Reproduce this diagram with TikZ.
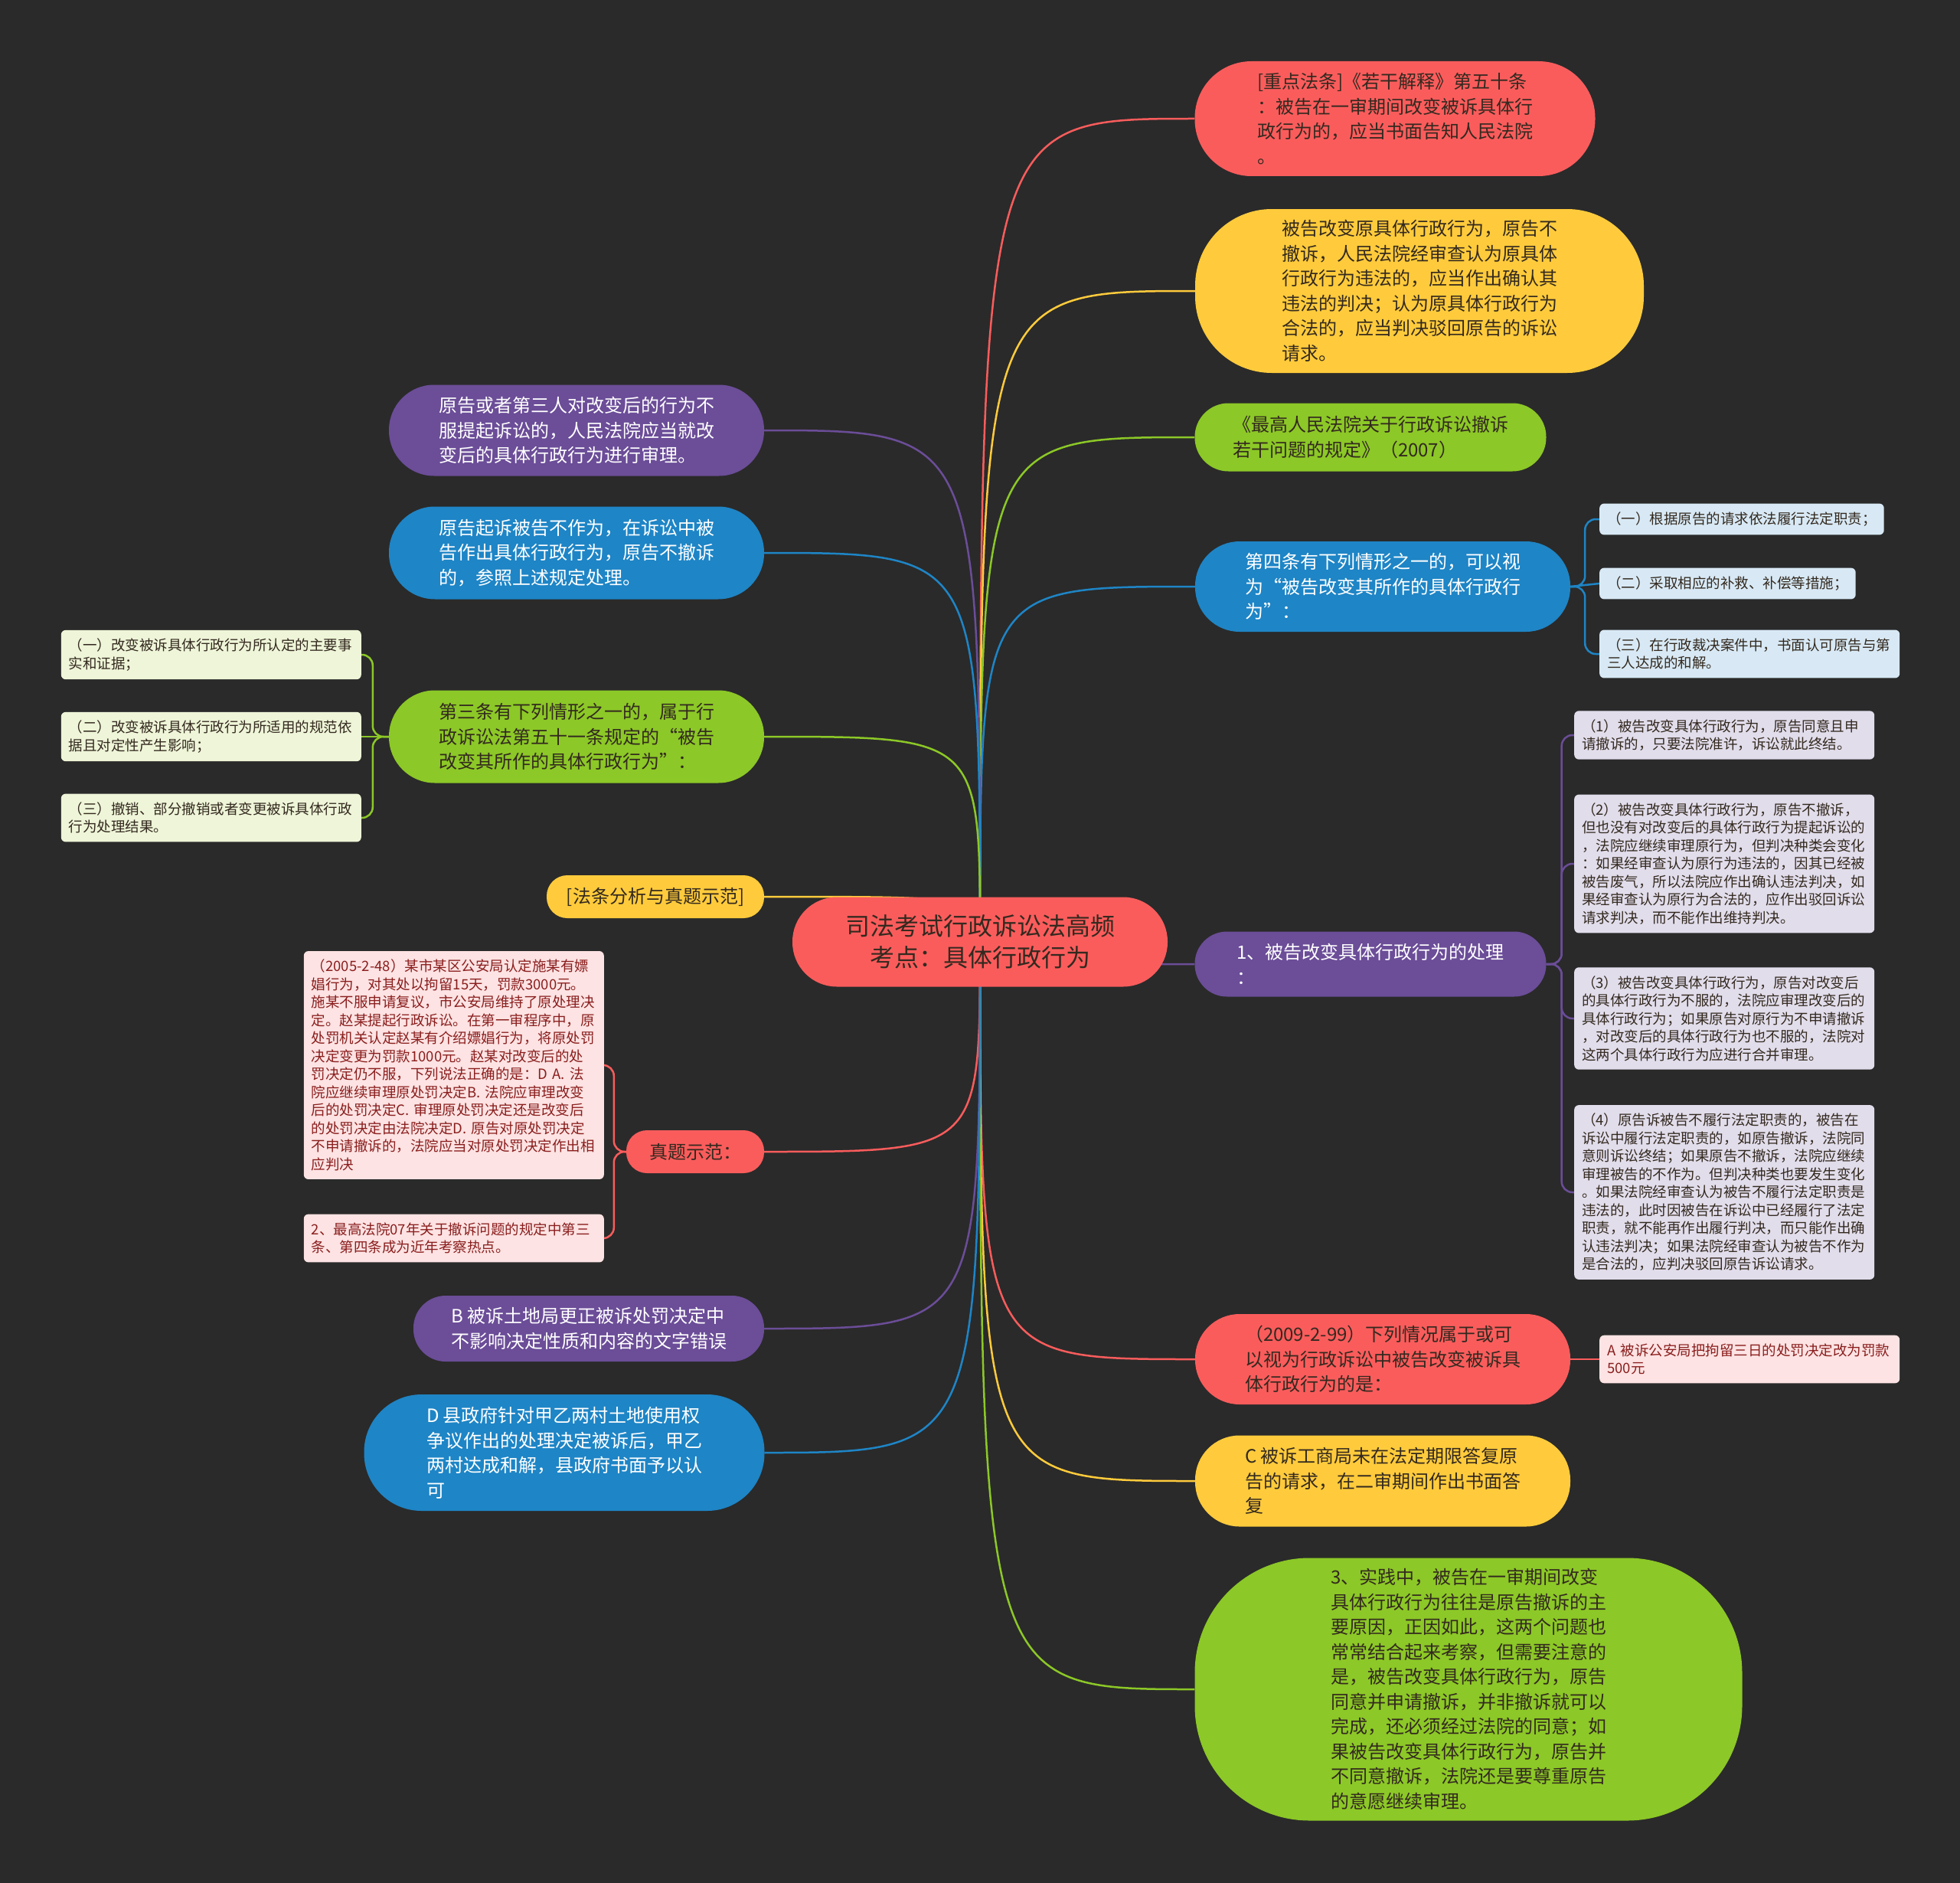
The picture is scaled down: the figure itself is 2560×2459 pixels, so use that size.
\documentclass[tikz,border=0pt]{standalone}
\usepackage{fontspec}
\setmainfont{Noto Sans CJK SC}
\usepackage{tikz}

\pgfdeclarelayer{bg}
\pgfdeclarelayer{edges}
\pgfsetlayers{bg,edges,main}

\definecolor{paper}{HTML}{2A2A2A}
\definecolor{cred}{HTML}{FA5C5C}
\definecolor{cyellow}{HTML}{FFCB3C}
\definecolor{cgreen}{HTML}{8CC827}
\definecolor{cblue}{HTML}{1E85C6}
\definecolor{cpurple}{HTML}{6B4D98}
\definecolor{cdark}{HTML}{33291F}
\definecolor{lblue}{HTML}{D8E9F5}
\definecolor{lpurple}{HTML}{E1DDEB}
\definecolor{lgreen}{HTML}{EEF5D8}
\definecolor{lpink}{HTML}{FDE3E3}
\definecolor{tpink}{HTML}{8A1E1E}

\begin{document}
\begin{tikzpicture}[x=1pt,y=-1pt,
    topic/.style={align=left,inner sep=0pt,font=\fontsize{24}{32.5}\selectfont},
    leaf/.style={align=left,inner xsep=10pt,inner ysep=11pt,rounded corners=6pt,
        font=\fontsize{18.5}{23.5}\selectfont},
    leafwide/.style={leaf,text width=372pt},
    link/.style={line width=2.5pt},
    brace/.style={line width=2.5pt,rounded corners=14pt}]
    \useasboundingbox (0,0) rectangle (2560,2459);
    \begin{pgfonlayer}{bg}
        \fill[paper] (0,0) rectangle (2560,2459);
    \end{pgfonlayer}

    % centre
    \node[align=center,inner sep=0pt,font=\fontsize{32}{41}\selectfont,fill=cred,text=cdark,
        minimum width=490pt,minimum height=117pt,rounded corners=58pt] (root) at (1280,1230)
        {司法考试行政诉讼法高频\\考点：具体行政行为};

    % right side
    \node[topic,fill=cred,text=cdark,minimum width=523pt,minimum height=150pt,
        rounded corners=74pt] (law) at (1822,155)
        {[重点法条]《若干解释》第五十条\\：被告在一审期间改变被诉具体行\\政行为的，应当书面告知人民法院\\。};
    \node[topic,fill=cyellow,text=cdark,minimum width=586pt,minimum height=214pt,
        rounded corners=100pt] (judge) at (1854,380)
        {被告改变原具体行政行为，原告不\\撤诉，人民法院经审查认为原具体\\行政行为违法的，应当作出确认其\\违法的判决；认为原具体行政行为\\合法的，应当判决驳回原告的诉讼\\请求。};
    \node[topic,fill=cgreen,text=cdark,minimum width=459pt,minimum height=89pt,
        rounded corners=44pt] (rules) at (1790,571)
        {《最高人民法院关于行政诉讼撤诉\\若干问题的规定》（2007）};
    \node[topic,fill=cblue,text=white,minimum width=490pt,minimum height=118pt,
        rounded corners=58pt] (art4) at (1806,766)
        {第四条有下列情形之一的，可以视\\为“被告改变其所作的具体行政行\\为”：};
    \node[topic,fill=cpurple,text=white,minimum width=459pt,minimum height=85pt,
        rounded corners=42pt] (handle) at (1790,1259)
        {1、被告改变具体行政行为的处理\\：};
    \node[topic,fill=cred,text=cdark,minimum width=490pt,minimum height=118pt,
        rounded corners=58pt] (ex09) at (1806,1775)
        {（2009-2-99）下列情况属于或可\\以视为行政诉讼中被告改变被诉具\\体行政行为的是：};
    \node[topic,fill=cyellow,text=cdark,minimum width=490pt,minimum height=119pt,
        rounded corners=58pt] (optc) at (1806,1934)
        {C 被诉工商局未在法定期限答复原\\告的请求，在二审期间作出书面答\\复};
    \node[topic,fill=cgreen,text=cdark,minimum width=715pt,minimum height=343pt,
        rounded corners=150pt] (practice) at (1918,2206)
        {3、实践中，被告在一审期间改变\\具体行政行为往往是原告撤诉的主\\要原因，正因如此，这两个问题也\\常常结合起来考察，但需要注意的\\是，被告改变具体行政行为，原告\\同意并申请撤诉，并非撤诉就可以\\完成，还必须经过法院的同意；如\\果被告改变具体行政行为，原告并\\不同意撤诉，法院还是要尊重原告\\的意愿继续审理。};

    % left side
    \node[topic,fill=cpurple,text=white,minimum width=490pt,minimum height=119pt,
        rounded corners=59pt] (third) at (753,562)
        {原告或者第三人对改变后的行为不\\服提起诉讼的，人民法院应当就改\\变后的具体行政行为进行审理。};
    \node[topic,fill=cblue,text=white,minimum width=490pt,minimum height=121pt,
        rounded corners=60pt] (omit) at (753,722)
        {原告起诉被告不作为，在诉讼中被\\告作出具体行政行为，原告不撤诉\\的，参照上述规定处理。};
    \node[topic,fill=cgreen,text=cdark,minimum width=490pt,minimum height=121pt,
        rounded corners=60pt] (art3) at (753,962)
        {第三条有下列情形之一的，属于行\\政诉讼法第五十一条规定的“被告\\改变其所作的具体行政行为”：};
    \node[topic,fill=cyellow,text=cdark,minimum width=284pt,minimum height=56pt,
        rounded corners=27pt] (guide) at (856,1171) {[法条分析与真题示范]};
    \node[topic,fill=cred,text=cdark,minimum width=180pt,minimum height=56pt,
        rounded corners=27pt] (demo) at (908,1504) {真题示范：};
    \node[topic,fill=cpurple,text=white,minimum width=458pt,minimum height=86pt,
        rounded corners=42pt] (optb) at (769,1735)
        {B 被诉土地局更正被诉处罚决定中\\不影响决定性质和内容的文字错误};
    \node[topic,fill=cblue,text=white,minimum width=523pt,minimum height=152pt,
        rounded corners=75pt] (optd) at (737,1897)
        {D 县政府针对甲乙两村土地使用权\\争议作出的处理决定被诉后，甲乙\\两村达成和解，县政府书面予以认\\可};

    % leaves
    \node[leaf,fill=lblue,text=cdark,anchor=west] (art4a) at (2089,678)
        {（一）根据原告的请求依法履行法定职责；};
    \node[leaf,fill=lblue,text=cdark,anchor=west] (art4b) at (2089,762)
        {（二）采取相应的补救、补偿等措施；};
    \node[leafwide,fill=lblue,text=cdark,anchor=west] (art4c) at (2089,854)
        {（三）在行政裁决案件中，书面认可原告与第\\三人达成的和解。};

    \node[leafwide,fill=lpurple,text=cdark,anchor=west] (handle1) at (2056,960)
        {（1）被告改变具体行政行为，原告同意且申\\请撤诉的，只要法院准许，诉讼就此终结。};
    \node[leafwide,fill=lpurple,text=cdark,anchor=west] (handle2) at (2056,1128)
        {（2）被告改变具体行政行为，原告不撤诉，\\但也没有对改变后的具体行政行为提起诉讼的\\，法院应继续审理原行为，但判决种类会变化\\：如果经审查认为原行为违法的，因其已经被\\被告废气，所以法院应作出确认违法判决，如\\果经审查认为原行为合法的，应作出驳回诉讼\\请求判决，而不能作出维持判决。};
    \node[leafwide,fill=lpurple,text=cdark,anchor=west] (handle3) at (2056,1330)
        {（3）被告改变具体行政行为，原告对改变后\\的具体行政行为不服的，法院应审理改变后的\\具体行政行为；如果原告对原行为不申请撤诉\\，对改变后的具体行政行为也不服的，法院对\\这两个具体行政行为应进行合并审理。};
    \node[leafwide,fill=lpurple,text=cdark,anchor=west] (handle4) at (2056,1557)
        {（4）原告诉被告不履行法定职责的，被告在\\诉讼中履行法定职责的，如原告撤诉，法院同\\意则诉讼终结；如果原告不撤诉，法院应继续\\审理被告的不作为。但判决种类也要发生变化\\。如果法院经审查认为被告不履行法定职责是\\违法的，此时因被告在诉讼中已经履行了法定\\职责，就不能再作出履行判决，而只能作出确\\认违法判决；如果法院经审查认为被告不作为\\是合法的，应判决驳回原告诉讼请求。};

    \node[leafwide,fill=lpink,text=tpink,anchor=west] (ex09a) at (2089,1775)
        {A 被诉公安局把拘留三日的处罚决定改为罚款\\500元};

    \node[leafwide,fill=lgreen,text=cdark,anchor=east] (art3a) at (472,855)
        {（一）改变被诉具体行政行为所认定的主要事\\实和证据；};
    \node[leafwide,fill=lgreen,text=cdark,anchor=east] (art3b) at (472,962)
        {（二）改变被诉具体行政行为所适用的规范依\\据且对定性产生影响；};
    \node[leafwide,fill=lgreen,text=cdark,anchor=east] (art3c) at (472,1068)
        {（三）撤销、部分撤销或者变更被诉具体行政\\行为处理结果。};

    \node[leafwide,fill=lpink,text=tpink,anchor=east] (demo1) at (789,1391)
        {（2005-2-48）某市某区公安局认定施某有嫖\\娼行为，对其处以拘留15天，罚款3000元。\\施某不服申请复议，市公安局维持了原处理决\\定。赵某提起行政诉讼。在第一审程序中，原\\处罚机关认定赵某有介绍嫖娼行为，将原处罚\\决定变更为罚款1000元。赵某对改变后的处\\罚决定仍不服，下列说法正确的是：D A. 法\\院应继续审理原处罚决定B. 法院应审理改变\\后的处罚决定C. 审理原处罚决定还是改变后\\的处罚决定由法院决定D. 原告对原处罚决定\\不申请撤诉的，法院应当对原处罚决定作出相\\应判决};
    \node[leafwide,fill=lpink,text=tpink,anchor=east] (demo2) at (789,1617)
        {2、最高法院07年关于撤诉问题的规定中第三\\条、第四条成为近年考察热点。};

    % connectors
    \begin{pgfonlayer}{edges}
        \draw[link,cred] (root.center) .. controls (root.center |- law.west) .. (law.west);
        \draw[link,cyellow] (root.center) .. controls (root.center |- judge.west) .. (judge.west);
        \draw[link,cgreen] (root.center) .. controls (root.center |- rules.west) .. (rules.west);
        \draw[link,cblue] (root.center) .. controls (root.center |- art4.west) .. (art4.west);
        \draw[link,cpurple] (root.center) .. controls (root.center |- handle.west) .. (handle.west);
        \draw[link,cred] (root.center) .. controls (root.center |- ex09.west) .. (ex09.west);
        \draw[link,cyellow] (root.center) .. controls (root.center |- optc.west) .. (optc.west);
        \draw[link,cgreen] (root.center) .. controls (root.center |- practice.west) .. (practice.west);
        \draw[link,cpurple] (root.center) .. controls (root.center |- third.east) .. (third.east);
        \draw[link,cblue] (root.center) .. controls (root.center |- omit.east) .. (omit.east);
        \draw[link,cgreen] (root.center) .. controls (root.center |- art3.east) .. (art3.east);
        \draw[link,cyellow] (root.center) .. controls (root.center |- guide.east) .. (guide.east);
        \draw[link,cred] (root.center) .. controls (root.center |- demo.east) .. (demo.east);
        \draw[link,cpurple] (root.center) .. controls (root.center |- optb.east) .. (optb.east);
        \draw[link,cblue] (root.center) .. controls (root.center |- optd.east) .. (optd.east);

        \draw[brace,cblue] (art4.east) -- ++(19,0) |- (art4a.west);
        \draw[link,cblue] (art4.east) -- (art4b.west);
        \draw[brace,cblue] (art4.east) -- ++(19,0) |- (art4c.west);
        \draw[brace,cpurple] (handle.east) -- ++(20,0) |- (handle1.west);
        \draw[brace,cpurple] (handle.east) -- ++(20,0) |- (handle2.west);
        \draw[brace,cpurple] (handle.east) -- ++(20,0) |- (handle3.west);
        \draw[brace,cpurple] (handle.east) -- ++(20,0) |- (handle4.west);
        \draw[link,cred] (ex09.east) -- (ex09a.west);
        \draw[brace,cgreen] (art3.west) -- ++(-21,0) |- (art3a.east);
        \draw[link,cgreen] (art3.west) -- (art3b.east);
        \draw[brace,cgreen] (art3.west) -- ++(-21,0) |- (art3c.east);
        \draw[brace,cred] (demo.west) -- ++(-16,0) |- (demo1.east);
        \draw[brace,cred] (demo.west) -- ++(-16,0) |- (demo2.east);
    \end{pgfonlayer}
\end{tikzpicture}
\end{document}
